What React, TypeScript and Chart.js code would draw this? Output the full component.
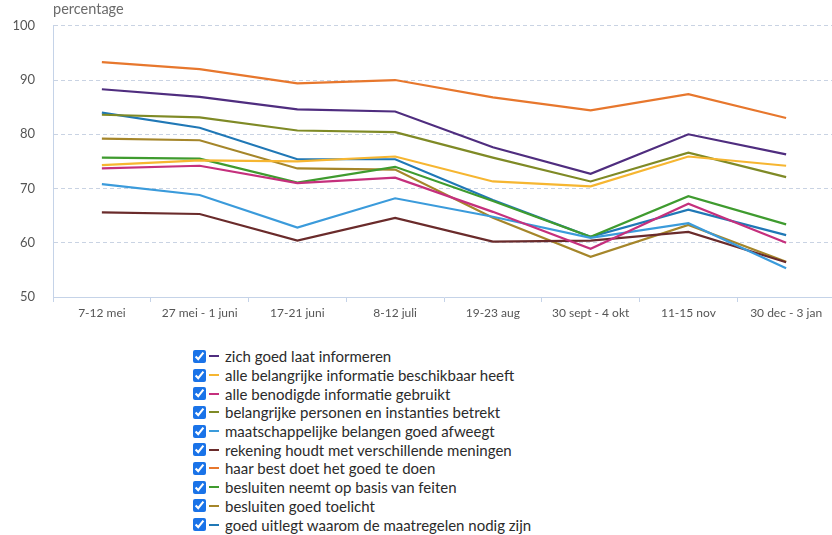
import React, { useEffect, useRef } from "react";
import { Chart, registerables } from "chart.js";

Chart.register(...registerables);

const categories = [
  "7-12 mei",
  "27 mei - 1 juni",
  "17-21 juni",
  "8-12 juli",
  "19-23 aug",
  "30 sept - 4 okt",
  "11-15 nov",
  "30 dec - 3 jan",
];

const yTicks = [50, 60, 70, 80, 90, 100];

const labels = [
  "zich goed laat informeren",
  "alle belangrijke informatie beschikbaar heeft",
  "alle benodigde informatie gebruikt",
  "belangrijke personen en instanties betrekt",
  "maatschappelijke belangen goed afweegt",
  "rekening houdt met verschillende meningen",
  "haar best doet het goed te doen",
  "besluiten neemt op basis van feiten",
  "besluiten goed toelicht",
  "goed uitlegt waarom de maatregelen nodig zijn",
];

const colors = [
  "#4f2d7f",
  "#f6b631",
  "#c5307d",
  "#7f8a26",
  "#3b9bdb",
  "#6a2b2b",
  "#e7772d",
  "#3f9b2f",
  "#a5862a",
  "#2078b6",
];

const informeren = [88.3, 86.9, 84.6, 84.2, 77.6, 72.7, 80.0, 76.3];
const beschikbaar = [74.3, 75.2, 75.0, 75.9, 71.3, 70.4, 75.9, 74.2];
const gebruikt = [73.7, 74.2, 71.0, 72.0, 65.7, 58.9, 67.2, 60.0];
const betrekt = [83.6, 83.1, 80.7, 80.4, 75.7, 71.3, 76.6, 72.1];
const afweegt = [70.8, 68.8, 62.8, 68.2, 64.8, 60.9, 63.6, 55.3];
const meningen = [65.6, 65.3, 60.4, 64.6, 60.2, 60.4, 62.0, 56.4];
const bestDoet = [93.3, 92.0, 89.4, 90.0, 86.8, 84.4, 87.4, 83.0];
const feiten = [75.7, 75.5, 71.1, 74.0, 67.7, 61.1, 68.6, 63.4];
const toelicht = [79.2, 78.9, 73.7, 73.5, 64.6, 57.4, 63.3, 56.5];
const uitlegt = [84.0, 81.2, 75.4, 75.4, 67.9, 61.1, 66.1, 61.4];

const seriesValues = [
  informeren,
  beschikbaar,
  gebruikt,
  betrekt,
  afweegt,
  meningen,
  bestDoet,
  feiten,
  toelicht,
  uitlegt,
];

const FONT = "Lato, 'Open Sans', sans-serif";

const axisTitlePlugin = {
  id: "axisTitle",
  afterDraw(chart: any) {
    const ctx = chart.ctx;
    ctx.save();
    ctx.font = "14.5px " + FONT;
    ctx.fillStyle = "#6b6b6b";
    ctx.textAlign = "left";
    ctx.textBaseline = "top";
    ctx.fillText("percentage", chart.chartArea.left, 2);
    ctx.restore();
  },
};

export default function App() {
  const canvasRef = useRef<HTMLCanvasElement | null>(null);

  useEffect(() => {
    if (!canvasRef.current) return;
    const chart = new Chart(canvasRef.current, {
      type: "line",
      data: {
        labels: categories,
        datasets: labels.map((label, i) => ({
          label,
          data: seriesValues[i],
          borderColor: colors[i],
          backgroundColor: colors[i],
          borderWidth: 2.2,
          pointRadius: 0,
          pointHoverRadius: 0,
          tension: 0,
          fill: false,
        })),
      },
      options: {
        responsive: false,
        animation: false,
        layout: { padding: { top: 24, right: 1, left: 0, bottom: 0 } },
        plugins: {
          legend: { display: false },
          tooltip: { enabled: false },
          title: { display: false },
        },
        scales: {
          x: {
            offset: true,
            grid: {
              display: true,
              offset: true,
              drawOnChartArea: false,
              drawTicks: true,
              tickLength: 5,
              color: "#c5d3e8",
            },
            border: { display: true, color: "#c5d3e8", width: 1 },
            ticks: {
              color: "#555",
              font: { family: FONT, size: 12 },
              padding: 4,
              maxRotation: 0,
              autoSkip: false,
            },
            afterFit: (scale: any) => {
              scale.height = 33;
            },
          },
          y: {
            min: 50,
            max: 100,
            afterBuildTicks: (scale: any) => {
              scale.ticks = yTicks.map((v) => ({ value: v }));
            },
            grid: {
              color: "#c9d3e3",
              drawTicks: false,
              lineWidth: 1,
            },
            border: { display: true, color: "#c5d3e8", width: 1, dash: [4, 3] },
            ticks: {
              color: "#555",
              font: { family: FONT, size: 13 },
              padding: 18,
            },
            afterFit: (scale: any) => {
              scale.width = 53;
            },
          },
        },
      },
      plugins: [axisTitlePlugin],
    });
    return () => chart.destroy();
  }, []);

  return (
    <div
      style={{
        position: "fixed",
        left: 0,
        top: 0,
        width: 832,
        height: 535,
        overflow: "hidden",
        background: "#fff",
        fontFamily: FONT,
      }}
    >
      <canvas
        ref={canvasRef}
        width={836}
        height={330}
        style={{ display: "block", width: 836, height: 330 }}
      />
      <div style={{ position: "absolute", left: 193, top: 347 }}>
        {labels.map((label, i) => (
          <div
            key={label}
            style={{
              display: "flex",
              alignItems: "center",
              height: 18.7,
              fontSize: 15,
              color: "#2b2b2b",
              whiteSpace: "nowrap",
            }}
          >
            <input
              type="checkbox"
              checked
              readOnly
              style={{
                width: 13,
                height: 13,
                margin: 0,
                accentColor: "#1a73e8",
              }}
            />
            <span
              style={{
                display: "inline-block",
                width: 10,
                height: 2,
                background: colors[i],
                margin: "0 6px 0 3px",
              }}
            />
            <span>{label}</span>
          </div>
        ))}
      </div>
    </div>
  );
}
